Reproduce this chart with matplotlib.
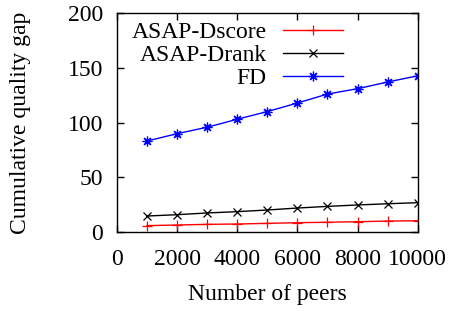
import matplotlib
import matplotlib.pyplot as plt

matplotlib.use("Agg")

plt.rcParams.update({
    "font.family": "Liberation Serif",
    "font.size": 17,
})

# --- data ---
peers = [1000, 2000, 3000, 4000, 5000, 6000, 7000, 8000, 9000, 10000]
asap_dscore = [5.8, 6.4, 7.0, 7.3, 7.9, 8.5, 8.9, 9.4, 10.0, 10.3]
asap_drank = [14.6, 15.8, 17.4, 18.6, 20.1, 21.9, 23.4, 24.7, 25.8, 26.8]
fd = [83.1, 89.8, 95.7, 103.0, 110.0, 117.8, 126.0, 130.9, 137.0, 142.7]

x_ticks = [0, 2000, 4000, 6000, 8000, 10000]
y_ticks = [0, 50, 100, 150, 200]

fig = plt.figure(figsize=(4.53, 3.11), dpi=100)
ax = fig.add_axes([0.258, 0.254, 0.664, 0.704])

ax.plot(peers, asap_dscore, color="#ff0000", lw=1, marker="+", ms=7, mew=0.9,
        label="ASAP-Dscore")
ax.plot(peers, asap_drank, color="#000000", lw=1, marker="x", ms=6, mew=0.9,
        label="ASAP-Drank")
ax.plot(peers, fd, color="#0000ff", lw=1, marker=(8, 2, 0), ms=7, mew=0.9,
        label="FD")

ax.set_xlim(0, 10000)
ax.set_ylim(0, 200)
ax.set_xticks(x_ticks)
ax.set_yticks(y_ticks)
ax.tick_params(direction="in", top=True, right=True, length=5, width=1)
ax.tick_params(axis="x", pad=12)
ax.tick_params(axis="y", pad=10)
for s in ax.spines.values():
    s.set_linewidth(1)

ax.set_xlabel("Number of peers", labelpad=10)
ax.set_ylabel("Cumulative quality gap", labelpad=26)

ax.legend(loc="upper right", bbox_to_anchor=(0.751, 0.96), frameon=False,
          markerfirst=False, handlelength=2.55, labelspacing=0.05,
          borderaxespad=0, borderpad=0, handletextpad=0.68)

fig.savefig("out.png", dpi=100)
